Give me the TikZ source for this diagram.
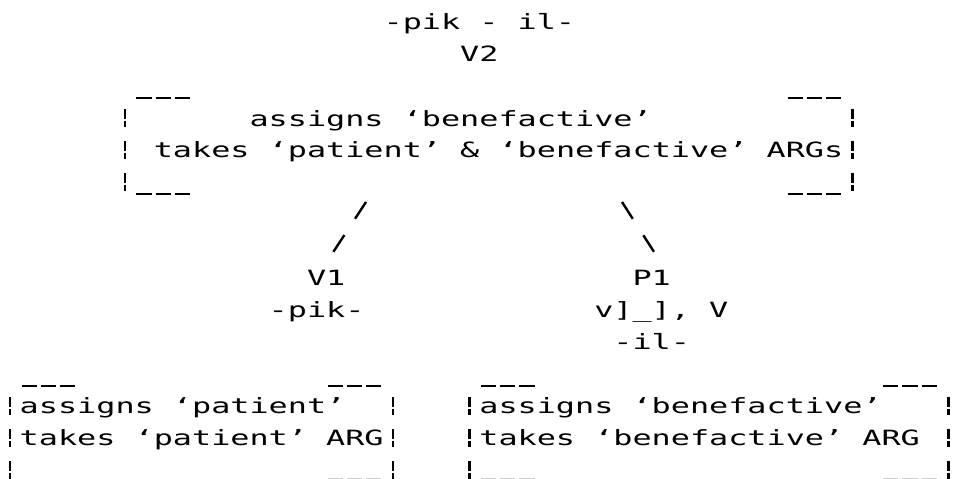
\documentclass[tikz,border=0pt]{standalone}
\usepackage{fontspec}
\newfontfamily\dm[FakeStretch=1.515]{DejaVu Sans Mono}
\usetikzlibrary{calc}
\begin{document}
\begin{tikzpicture}[x=1pt,y=-1pt,
  txt/.style={inner sep=0pt, anchor=base west, font=\dm\fontsize{21}{32}\selectfont},
  bar/.style={line width=2.6pt, dash pattern=on 10pt off 2pt on 6pt off 14pt},
  corner/.style={line width=2.6pt, dash pattern=on 15.15pt off 4pt},
  conn/.style={line width=2.4pt, dash pattern=on 20pt off 19.5pt, shorten >=21pt}]
\fill[white] (0,0) rectangle (954,479);
\useasboundingbox (0,0) rectangle (954,479);
% labels
\node[txt] (morph) at (383.4,29) {-pik - il-};
\node[txt] (v2) at (460,61) {V2};
\node[txt] (ta) at (249.35,126) {assigns ‘benefactive’};
\node[txt] (tb) at (153.6,157) {takes ‘patient’ \& ‘benefactive’ ARGs};
\node[txt] (v1) at (306.8,285) {V1};
\node[txt] (v1m) at (268.5,317) {-pik-};
\node[txt] (p1) at (632.35,285) {P1};
\node[txt] (p1a) at (594.05,317) {v]\_], V};
\node[txt] (p1m) at (613.2,349) {-il-};
\node[txt] (la) at (19.55,413) {assigns ‘patient’};
\node[txt] (lb) at (19.55,445) {takes ‘patient’ ARG};
\node[txt] (ra) at (479.15,413) {assigns ‘benefactive’};
\node[txt] (rb) at (479.15,445) {takes ‘benefactive’ ARG};
% box sides
\foreach \x in {124.9,852.6} \draw[bar] (\x,109) -- (\x,191);
\foreach \x in {10,393,469.6,948.35} \draw[bar] (\x,397) -- (\x,479);
% box corners
\foreach \x in {136.45,787.55} {
  \draw[corner] (\x,98) -- +(53.45,0);
  \draw[corner] (\x,194) -- +(53.45,0);
}
\foreach \x in {21.55,327.95,481.15,883.3} \draw[corner] (\x,386) -- +(53.45,0);
\foreach \x in {327.95,481.15,883.3} \draw[corner, gray!40] (\x,479.5) -- +(53.45,0);
% connectors
\coordinate (tbl) at (366,202);
\coordinate (tbr) at (622,202);
\draw[conn] (tbl) -- (v1.119);
\draw[conn] (tbr) -- (p1.30);
\end{tikzpicture}
\end{document}
